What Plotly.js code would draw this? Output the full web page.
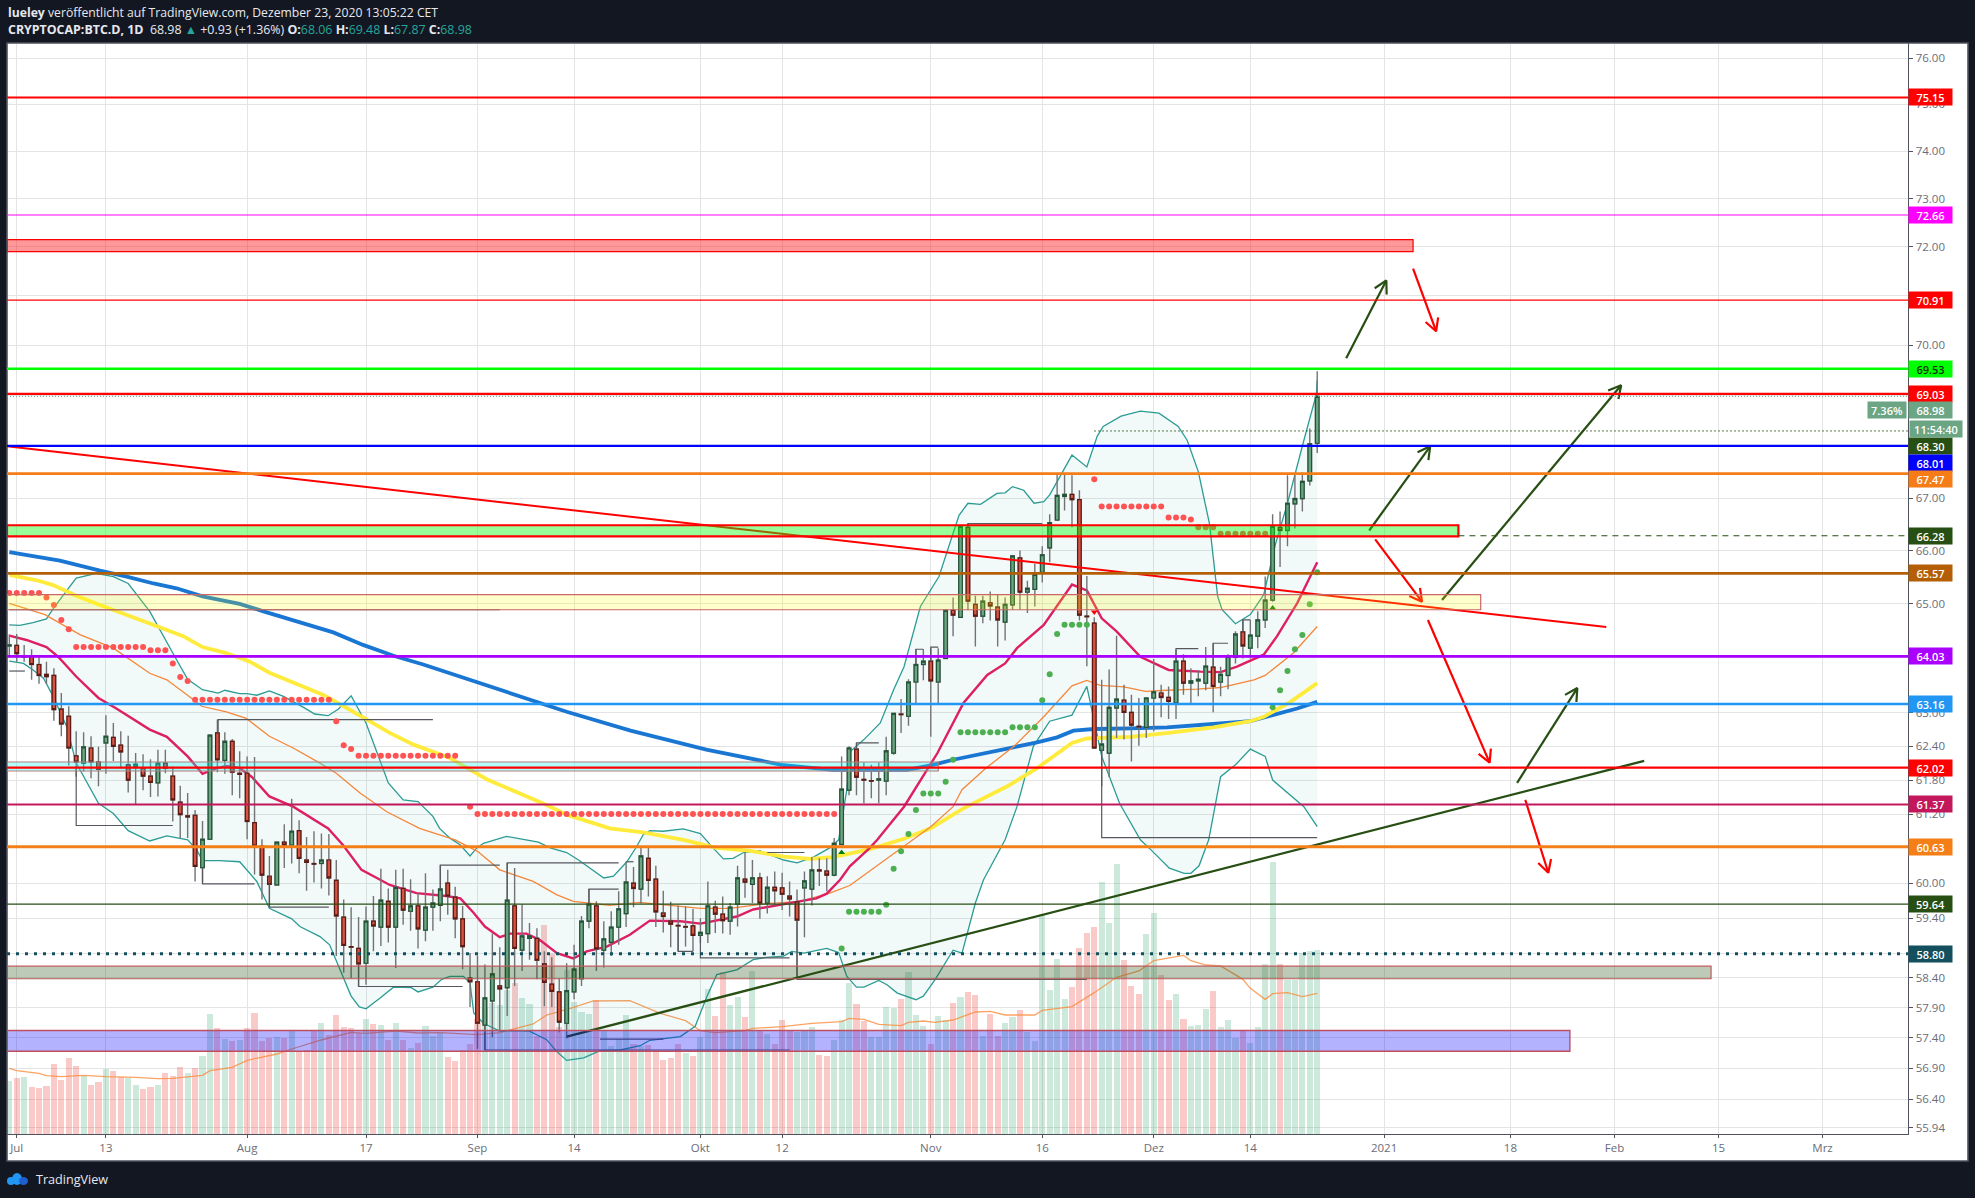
<!DOCTYPE html>
<html><head><meta charset="utf-8">
<script src="https://cdn.plot.ly/plotly-3.0.1.min.js"></script>
<style>html,body{margin:0;padding:0;background:#131722}#c{width:1975px;height:1198px}</style>
</head><body><div id="c"></div>
<script>
// Daily candles, first entry 30 Jun 2020, last entry 23 Dec 2020
const opens=[64.22,
64.23,64.04,64.03,63.88,63.70,63.68,63.07,62.94,62.23,62.10,62.37,62.12,62.46,62.56,62.42,62.07,62.04,62.01,61.87,61.75,62.10,61.87,61.41,61.17,61.18,60.27,60.76,62.64,62.15,62.49,61.92,
61.92,61.05,60.64,60.12,59.97,60.71,60.66,60.91,60.40,60.34,60.34,60.40,60.05,59.42,58.92,58.89,58.64,59.35,59.25,59.69,59.25,59.91,59.52,59.61,59.20,59.59,59.62,60.00,59.76,59.39,58.39,
58.33,57.61,58.01,58.26,58.23,59.61,58.86,59.06,59.06,58.63,58.29,58.16,57.64,58.16,58.38,59.35,59.61,58.86,58.99,59.25,59.48,60.00,59.90,60.43,60.07,59.49,59.35,59.28,59.26,59.27,
59.11,59.14,59.59,59.47,59.35,59.64,60.07,59.98,60.09,59.66,59.93,59.92,59.78,59.68,59.92,59.90,60.23,60.21,60.14,60.67,61.62,62.35,61.81,61.79,61.80,61.78,62.28,62.98,62.94,63.56,63.88,
63.94,63.56,63.99,64.88,64.75,66.44,64.99,64.77,65.02,64.94,64.66,64.98,65.86,65.22,65.27,65.59,66.05,66.58,67.03,67.07,66.97,64.77,64.64,62.33,62.28,63.09,63.23,63.01,62.76,62.74,
63.27,63.36,63.28,63.18,63.94,63.54,63.58,63.54,63.83,63.56,63.68,64.01,64.48,64.18,64.40,64.70,65.07,66.44,66.38,66.89,66.99,67.33,68.06];
const highs=[64.43,
64.44,64.24,64.16,64.02,63.93,63.81,63.36,63.12,62.67,62.65,62.58,62.39,62.96,62.82,62.67,62.59,62.28,62.26,62.17,62.34,62.34,62.04,61.70,61.57,61.27,61.08,62.60,62.88,62.65,62.53,62.31,
62.22,62.21,60.76,60.47,60.71,61.02,61.47,61.09,60.80,60.90,60.86,60.85,60.40,59.72,59.59,59.42,59.60,59.78,60.25,59.91,60.23,60.25,60.07,59.83,60.17,59.89,60.31,60.23,59.94,59.61,58.81,
58.77,58.62,59.14,58.91,60.35,60.26,59.64,59.32,59.23,58.84,58.74,58.39,58.64,58.95,59.44,59.90,59.69,59.35,59.52,59.86,60.37,60.28,60.64,60.63,60.30,59.87,59.68,59.62,59.60,59.56,
59.40,60.03,59.70,59.77,59.66,60.30,60.54,60.40,60.18,60.12,60.20,60.18,60.03,59.89,60.20,60.45,60.43,60.43,60.78,62.22,62.40,62.46,62.11,62.07,62.11,62.57,63.00,63.25,63.61,64.16,64.16,
64.18,64.18,64.89,65.12,66.48,66.51,65.15,65.15,65.23,65.18,65.12,65.91,66.00,65.43,65.75,66.08,66.69,67.47,67.47,67.44,67.15,65.52,64.75,63.60,63.79,64.41,63.51,63.33,63.27,63.28,
63.98,63.51,63.48,64.15,64.07,63.81,63.78,64.20,64.27,63.84,64.07,64.49,64.70,64.70,64.86,65.51,66.69,66.74,67.44,67.44,67.49,68.35,69.48];
const lows=[64.02,
63.93,63.93,63.60,63.53,63.53,62.86,62.58,62.06,61.86,61.95,61.83,61.69,61.91,62.14,62.01,61.58,61.37,61.62,61.50,61.51,61.92,61.07,60.78,60.78,60.03,60.01,60.76,61.94,61.91,61.53,61.48,
60.76,60.15,59.72,59.60,59.97,60.26,60.34,60.17,59.87,60.01,59.91,59.79,58.76,58.48,58.39,58.25,58.28,58.84,58.93,58.99,58.56,59.29,59.19,58.89,59.01,59.19,59.35,59.46,59.06,58.54,57.91,
57.22,57.20,57.41,57.53,57.76,58.26,58.51,58.70,58.37,57.92,57.91,57.49,57.39,58.04,58.26,59.23,58.51,58.57,58.76,58.95,59.25,59.59,59.65,59.77,59.25,59.16,58.91,58.84,58.92,58.84,
58.98,58.98,59.15,59.14,59.12,59.26,59.75,59.66,59.39,59.48,59.62,59.54,59.43,58.39,59.08,59.62,59.95,59.86,60.12,60.65,61.53,61.53,61.39,61.48,61.39,61.53,62.25,62.64,62.77,63.18,63.59,
62.57,63.16,63.99,64.40,64.75,64.88,64.21,64.64,64.69,64.21,64.32,64.89,64.89,64.83,64.95,65.40,65.78,66.56,66.76,66.44,64.69,63.85,62.35,61.69,61.85,62.55,62.52,62.13,62.41,62.55,
62.67,62.92,62.89,62.89,63.33,63.18,63.30,63.41,63.01,63.30,63.43,63.90,63.99,63.99,64.18,64.55,65.04,65.69,66.08,66.42,66.74,67.24,67.87];
const closes=[64.24,
64.08,64.02,63.88,63.68,63.66,63.06,62.80,62.37,62.12,62.39,62.12,61.99,62.58,62.40,62.30,61.80,62.08,61.87,61.76,62.10,62.01,61.45,61.19,61.15,60.29,60.76,62.60,62.16,62.49,61.94,61.90,
61.07,60.64,60.14,59.98,60.71,60.66,60.90,60.43,60.36,60.33,60.40,60.09,59.44,58.94,58.91,58.63,59.35,59.27,59.71,59.25,59.93,59.54,59.61,59.22,59.59,59.66,59.90,59.78,59.39,58.92,58.33,
57.64,58.06,58.46,58.21,59.71,58.89,59.10,59.10,58.69,58.32,58.17,57.66,58.18,58.54,59.35,59.64,58.88,59.05,59.25,59.56,60.02,59.91,60.47,60.05,59.51,59.43,59.30,59.27,59.25,59.11,
59.16,59.61,59.47,59.36,59.59,60.09,60.02,60.09,59.66,59.93,59.87,59.81,59.73,59.37,60.04,60.23,60.21,60.14,60.69,61.64,62.37,61.85,61.80,61.78,61.82,62.32,62.99,62.97,63.56,63.88,63.94,
63.58,63.96,64.88,64.79,66.46,65.05,64.77,65.05,64.96,64.70,64.99,65.90,65.22,65.29,65.55,65.92,66.53,67.05,67.07,66.97,64.79,64.76,62.37,62.44,63.10,63.25,63.01,62.78,62.75,63.27,
63.38,63.28,63.21,63.94,63.54,63.58,63.61,63.85,63.48,63.70,64.03,64.44,64.22,64.42,64.70,65.07,66.46,66.38,66.90,66.99,67.32,68.05,68.98];

// Volume per candle, arbitrary units, and the bar colour read per candle
const volume=[159,168,171,141,138,144,210,162,228,204,174,147,156,195,189,172,168,147,135,141,147,183,174,201,183,198,234,360,318,286,279,282,318,363,279,288,291,288,311,249,252,312,333,297,357,321,318,302,345,330,327,282,333,282,259,273,324,294,302,231,219,252,270,344,
382,392,386,432,452,408,390,295,627,540,322,492,395,366,360,402,312,264,284,357,270,264,267,252,222,228,270,242,234,
292,435,354,486,387,411,351,489,310,300,270,342,310,307,310,321,237,234,282,342,452,390,339,292,291,381,377,405,486,357,324,
270,354,342,393,411,426,417,294,360,294,333,351,372,306,279,657,432,525,405,441,558,603,621,756,633,810,522,444,420,600,
663,477,402,420,345,324,327,376,429,321,342,287,309,273,321,510,816,510,462,462,543,549,552];
const volumeDir="GRGRRRRRRRGRRGRRGGRRGRRRGRGGRGRGRRRRGRGRRRGRRRRRGRGRGRGRGGGRRRRR"+"GGGGRG"+"GRRRRGGGGR"+"GGGGRGRRRR"+"RGRGGRRGGR"+"GRGRRRGGGR"+"RGGGRRGGGG"+"RGGGRGGRGR"+"RGRRGGRGGG"+"GGGRRRRGGG"+"RRRGGRRGRG"+"GGRGGGRGGG"+"GRGGGGG";
const volMaIdx=[0,1,4,5,7,10,13,17,20,22,26,27,30,32,36,38,42,46,48,52,55,58,63,66,70.5,72.3,75.5,78.6,83.5,87.6,91,93,95,99,100,104,108,112,113,115,117,120,121,123,124.5,127,130,132,134,138,139,143,146,149,152,154,158,159,161,163,166,167,169,170,172,174,176];
const volMa=[197,190,182,175,172,176,172,170,166,167,176,190,200,221,240,255,282,305,302,309,303,304,298,304,330,357,377,399,400,362,340,310,304,310,317,322,332,337,347,344,329,325,335,339,335,342,366,368,357,357,371,382,424,470,489,520,536,520,507,504,464,437,404,421,424,412,422];

// Moving averages, read at candle index positions
const ema200Idx=[0,3.7,6.8,12.2,15.8,19.4,22.5,26,31,34.2,38.2,43.6,47.6,51.7,55.7,59.3,75,83.6,93.8,103.9,110.7,120.8,124,127,130.7,134.3,138.3,141,143.2,146,150.9,155.8,162,167,170,173.3,176];
const ema200=[65.97,65.89,65.81,65.62,65.51,65.38,65.29,65.14,65.00,64.86,64.70,64.47,64.24,64.04,63.88,63.72,63.02,62.68,62.34,62.07,61.98,61.98,62.06,62.16,62.27,62.36,62.47,62.56,62.68,62.71,62.72,62.74,62.80,62.85,62.96,63.08,63.20];
const ema100Idx=[0,3.7,5.9,9,12.2,15.8,19.8,23.4,26,29.2,32.4,35,39,42.2,45,48,51.2,54.4,59.3,64.3,72.3,75,80.8,85.3,90.7,95.2,99.7,104.2,107.8,110.9,113.1,115.8,120.4,124,127,128.4,134.3,138.3,143,145,150.9,156,162,167,168.8,172.4,176];
const ema100=[65.54,65.44,65.35,65.15,64.98,64.80,64.59,64.40,64.20,64.09,63.93,63.73,63.51,63.33,63.12,62.88,62.64,62.43,62.19,61.81,61.36,61.19,60.95,60.88,60.75,60.61,60.56,60.46,60.42,60.45,60.52,60.59,60.77,60.95,61.19,61.30,61.69,62.01,62.46,62.54,62.57,62.64,62.74,62.85,62.93,63.20,63.54];
const ema50Idx=[0,4.8,9.5,14,18.9,21.2,23.9,25.9,29.2,31.9,35,38.2,41.8,44,47.2,50.8,55.2,58.8,60,63,66,70.5,73.7,75.9,80.8,84.8,88.5,93,97,101.9,106.4,110.4,113.1,122.2,124,127,128.2,131.4,135.2,139.2,143,145,146.8,150,152.9,155.8,159.8,163,167.5,169,172.8,176];
const ema50=[65.01,64.80,64.43,64.18,63.72,63.60,63.33,63.12,63.02,62.90,62.58,62.37,62.10,61.92,61.57,61.24,60.95,60.81,60.75,60.55,60.23,60.03,59.80,59.69,59.62,59.67,59.63,59.57,59.57,59.65,59.69,59.83,59.96,60.81,60.98,61.33,61.63,62.01,62.40,62.93,63.49,63.59,63.50,63.47,63.39,63.41,63.43,63.46,63.60,63.68,64.09,64.58];
const ema20Idx=[0,2.3,5,6.6,9,12,14.4,16.7,18.9,21.2,24,26,27.9,29.2,31,32.6,35,38.2,41.3,42.9,44.9,47.4,49.9,51.2,54.8,58.8,60.7,62.5,64,66,67.4,69.6,71.4,73.7,75.9,77.7,80.4,83.5,86.2,90.3,93,95.2,97.9,100.1,103.7,108.6,110,111.8,113.1,115.8,116.8,120.4,124.9,128.4,131.6,134,135.6,139.2,143,145,147,149,152.2,156,160.3,163,165.2,168.8,170.6,173.3,176];
const ema20=[64.41,64.33,64.20,64.02,63.66,63.27,63.08,62.89,62.70,62.57,62.22,61.91,62.01,62.05,62.01,61.86,61.51,61.33,61.07,60.95,60.66,60.23,60.06,59.97,59.83,59.78,59.74,59.49,59.26,59.08,59.14,59.14,59.03,58.81,58.72,58.84,58.92,59.12,59.36,59.35,59.31,59.36,59.43,59.55,59.63,59.74,59.82,60.06,60.29,60.61,60.75,61.33,62.28,63.18,63.69,63.90,64.18,64.61,65.36,65.25,64.73,64.49,64.02,63.78,63.75,63.74,63.84,64.06,64.40,65.01,65.78];

// Bollinger bands
const bbUpperIdx=[0,1.4,3.2,5,6.1,7.7,9,11.7,14,16,18.9,22,24,26,28.1,29,31,32,33.3,35,36.9,39.6,41.1,42.9,44.3,46,48,51,53,55,57,57.9,59.3,60.7,62,62.9,63.8,66.9,69.6,71.2,72.8,75,76.6,78.2,80,81.3,83.1,84.4,85.3,86.2,88,90.7,93,94.7,96.1,97.4,98.8,101,104.2,106,108.2,110.4,111.6,112.7,113.2,115,117.2,119,120.4,122.6,125.1,127.8,129,130.7,132.9,134,135,136.5,137.9,139.2,140,143,145,146.4,147.2,149.6,152.2,154.7,157.3,158.5,160,161.5,162.6,163.2,165,167,168.8,170.4,172,174.1,175.9,176];
const bbUpper=[64.61,64.60,64.65,64.72,64.95,65.23,65.48,65.57,65.51,65.38,64.86,64.09,63.61,63.42,63.36,63.41,63.35,63.35,63.32,63.40,63.30,63.10,62.98,62.95,63.07,63.31,62.82,61.75,61.45,61.42,61.16,60.95,60.78,60.66,60.47,60.61,60.69,60.81,60.75,60.71,60.61,60.53,60.40,60.26,60.09,60.12,60.37,60.63,60.84,60.91,60.90,60.94,60.86,60.61,60.42,60.43,60.53,60.56,60.40,60.35,60.45,60.61,60.75,61.63,62.31,62.52,62.82,63.42,63.84,64.95,65.51,66.67,66.90,66.88,67.09,67.10,67.22,67.15,66.90,66.93,67.06,67.83,67.60,68.20,68.39,68.59,68.69,68.65,68.39,68.12,67.51,66.51,65.14,64.89,64.63,64.80,65.17,66.13,66.90,68.06,69.03,69.30];
const bbLowerIdx=[0,1.9,3.2,4.6,5.9,7.7,9,12,14,16,18.9,21.2,24,25.2,26,28.3,31,33.3,35,38,39.1,41.8,43.1,44.9,46,47.1,48,49.9,51.7,54.1,55,57,58.2,59.3,61.1,62,62.5,63.8,66,67.8,70,72.3,73.7,75,77.3,79.5,82.2,84.9,86.2,90.3,92.3,93.9,95.2,97.9,100.1,101.9,104.2,105.3,106.9,110,111.6,112.7,114,115,117,118.1,119.5,122,123,124.6,127,128.2,130,131.1,134,135.6,136.9,137.8,140,143,145,147,149.4,152.2,153.6,156.1,158.1,159,160.1,161.4,163,165,167,169,170,174.2,176];
const bbLower=[63.94,63.90,63.78,63.63,63.30,62.76,62.10,61.39,61.21,60.91,60.73,60.82,60.75,60.58,60.39,60.39,60.37,60.03,59.57,59.39,59.26,59.09,58.95,58.42,58.09,57.91,57.88,58.06,58.24,58.23,58.16,58.24,58.37,58.42,58.42,58.31,57.81,57.64,57.51,57.52,57.51,57.37,57.17,57.03,57.07,57.19,57.20,57.27,57.36,57.42,57.59,58.09,58.45,58.53,58.70,58.74,58.76,58.84,58.81,58.89,58.82,58.42,58.24,58.24,58.35,58.28,58.14,58.03,58.09,58.37,58.86,58.81,59.66,60.06,60.75,61.33,61.98,62.40,62.85,62.96,63.48,62.22,61.39,60.75,60.58,60.26,60.17,60.17,60.30,60.75,61.86,62.07,62.35,62.22,61.80,61.33,60.98];

// Parabolic SAR dots
const sarRedIdx=[0,1,2,3,4,5,6,7,8,9,10,11,12,13,14,15,16,17,18,19,20,21,22,23,24,25,26,27,28,29,30,31,32,33,34,35,36,37,38,39,40,41,42,43,44,45,46,47,48,49,50,51,52,53,54,55,56,57,58,59,60,62,63,64,65,66,67,68,69,70,71,72,73,74,75,76,77,78,79,80,81,82,83,84,85,86,87,88,89,90,91,92,93,94,95,96,97,98,99,100,101,102,103,104,105,106,107,108,109,110,111,146,147,148,149,150,151,152,153,154,155,156,157,158,159,160,161,162,163,164,165,166,167,168,169];
const sarRed=[65.20,65.20,65.20,65.20,65.20,65.12,64.98,64.70,64.53,64.20,64.20,64.20,64.20,64.20,64.20,64.20,64.20,64.20,64.20,64.14,64.14,64.14,63.90,63.65,63.58,63.24,63.24,63.24,63.24,63.24,63.24,63.24,63.24,63.24,63.24,63.24,63.24,63.24,63.24,63.24,63.24,63.24,63.24,63.24,62.85,62.42,62.35,62.23,62.23,62.23,62.23,62.23,62.23,62.23,62.23,62.23,62.23,62.23,62.23,62.23,62.23,61.33,61.20,61.20,61.20,61.20,61.20,61.20,61.20,61.20,61.20,61.20,61.20,61.20,61.20,61.20,61.20,61.20,61.20,61.20,61.20,61.20,61.20,61.20,61.20,61.20,61.20,61.20,61.20,61.20,61.20,61.20,61.20,61.20,61.20,61.20,61.20,61.20,61.20,61.20,61.20,61.20,61.20,61.20,61.20,61.20,61.20,61.20,61.20,61.20,61.20,67.36,66.84,66.84,66.84,66.84,66.84,66.84,66.84,66.84,66.84,66.63,66.63,66.63,66.59,66.44,66.44,66.44,66.32,66.32,66.32,66.32,66.32,66.32,66.32];
const sarGreenIdx=[112,113,114,115,116,117,118,119,120,121,122,123,124,125,126,127,128,129,130,131,132,133,134,135,136,137,138,139,140,141,142,143,144,145,170,171,172,173,174,175,176];
const sarGreen=[58.89,59.51,59.51,59.51,59.51,59.51,59.63,60.25,60.55,60.85,61.27,61.56,61.56,61.56,61.77,62.16,62.65,62.65,62.65,62.65,62.65,62.65,62.65,62.74,62.74,62.74,62.74,63.23,63.70,64.44,64.61,64.61,64.61,64.61,63.10,63.41,63.76,64.16,64.42,64.99,65.59];
const upSignalIdx=[112,170], upSignal=[60.53,64.92];
const downSignalIdx=[146], downSignal=[64.85];

// Pivot / zig-zag segments (null separates the segments)
const pivotIdx=[0,2.1,null,9,9,22,null,28.1,28.1,57,null,26,26,33,null,35,35,43,null,47,47,61,null,58,58,66,null,67,67,82,null,83,84,null,78,78,82,null,64,64,105,null,79.5,88,null,90,90,92,null,93,93,105,null,106,106,145,null,102,107,null,114,114,117,null,122,122,123,null,124,124,125,null,129,129,139,null,147,147,176,null,157,157,160,null,162,162,164,null,166,166,167,null,0,66];
const pivotPrice=[63.76,63.76,null,62.04,61.00,61.00,null,62.64,62.88,62.88,null,60.27,59.99,59.99,null,60.12,59.59,59.59,null,58.63,58.25,58.25,null,59.90,60.31,60.31,null,59.71,60.35,60.35,null,60.37,60.37,null,59.66,59.90,59.90,null,57.61,57.20,57.20,null,57.38,57.38,null,59.27,58.84,58.84,null,59.11,58.73,58.73,null,59.37,58.37,58.37,null,60.53,60.53,null,62.35,62.46,62.46,null,63.88,64.16,64.16,null,63.94,64.20,64.20,null,66.44,66.51,66.51,null,62.33,60.79,60.79,null,63.94,64.17,64.17,null,63.83,64.27,64.27,null,64.48,64.70,64.70,null,64.89,64.89];

// Trend lines and arrows: [start index, start price, end index, end price]
const redTrend=[-0.3,68.00,214.9,64.57];
const greenTrend=[75,57.42,220,62.14];
const greenArrows=[[179.9,69.74,185.3,71.31],[183,66.38,191.2,68.00],[192.8,65.07,216.9,69.20],[202.9,61.75,211,63.45]];
const redArrows=[[188.9,71.55,192,70.28],[183.8,66.21,190.1,65.04],[190.9,64.70,199.2,62.11],[204,61.45,207.1,60.18]];

// Levels
const levelValues=[75.15,72.66,70.91,69.53,69.03,68.98,68.30,68.01,67.47,66.28,65.57,64.03,63.16,62.02,61.37,60.63,59.64,58.80];
const levelColors=["#ff0000","#ff00ff","#ff0000","#00ff00","#ff0000","#6ba583","#274e13","#0000ff","#f57c17","#274e13","#b45f06","#aa00ff","#2196f3","#ff0000","#c2185b","#f57f17","#274e13","#134f5c"];
const levelWidths=[2,1.2,1.2,2.4,2.2,1,1,2.2,2.6,1,2.6,2.8,2.4,2.2,2,2.8,1.2,3];
const levelDash=["solid","solid","solid","solid","solid","1px,2px","1.5px,2.5px","solid","solid","6px,5px","solid","solid","solid","solid","solid","solid","solid","3px,6px"];
const levelTagShift=[0,0,0,0,0,-14,-15,-17,-5,0,0,0,0,0,0,0,0,0];
const levelStartIdx=[null,null,null,null,null,null,146,null,null,195,null,null,null,null,null,null,null,null];

// Bands: [upper price, lower price, end index]
const bandValues=[[72.15,71.90,188.9],[66.48,66.27,195],[65.17,64.89,198],[62.12,61.96,125],[58.59,58.38,229],[57.52,57.18,210]];
const bandFill=["rgba(255,0,0,.4)","rgba(0,255,0,.4)","rgba(255,255,0,.2)","rgba(0,255,255,.3)","rgba(39,78,19,.3)","rgba(0,0,255,.3)"];
const bandLine=["#ff0000","#ff0000","#cc6666","#b87a7a","#bf5b5b","#bf4f5f"];
const bandLineWidth=[1.2,2.2,1.2,1.2,1.2,1.4];

// Axes
const xTickIdx=[1,13,32,48,63,76,93,104,124,139,154,167,185,202,216,230,244];
const xTickText=["Jul","13","Aug","17","Sep","14","Okt","12","Nov","16","Dez","14","2021","18","Feb","15","Mrz"];
const yTicks=[76,75,74,73,72,71,70,69,68,67,66,65,64,63,62.4,61.8,61.2,60,59.4,58.8,58.4,57.9,57.4,56.9,56.4,55.94];

const dayMs=864e5, startMs=Date.UTC(2020,5,30);
const d=i=>i==null?null:new Date(startMs+i*dayMs).toISOString().slice(0,19).replace('T',' ');
const ds=a=>a.map(d);
const dates=opens.map((_,i)=>d(i));
const priceRange=[Math.log10(55.84),Math.log10(76.33)];
const GREEN="#6ba583",RED="#d75442";

function arrowPath(a){
  const kx=7.43,ky=3492,[i0,p0,i1,p1]=a;
  const dx=(i1-i0)*kx,dy=Math.log(p1/p0)*ky,ang=Math.atan2(dy,dx),len=14,sp=0.5;
  const barb=s=>[i1-Math.cos(ang+s)*len/kx,p1*Math.exp(-Math.sin(ang+s)*len/ky)];
  const b1=barb(sp),b2=barb(-sp);
  return {x:[i0,i1,null,b1[0],i1,b2[0],null],y:[p0,p1,null,b1[1],p1,b2[1],null]};
}
function arrowsTrace(list,color){
  let x=[],y=[];
  list.forEach(a=>{const r=arrowPath(a);x=x.concat(r.x);y=y.concat(r.y);});
  return {type:'scatter',mode:'lines',x:ds(x),y,yaxis:'y3',line:{color,width:2.2},connectgaps:false};
}
const line=(ix,vals,color,width,extra)=>Object.assign({type:'scatter',mode:'lines',x:ds(ix),y:vals,yaxis:'y2',line:{color,width},cliponaxis:true},extra||{});

const traces=[
 {type:'bar',x:dates,y:volume,yaxis:'y',width:0.82*dayMs,marker:{color:volume.map((_,i)=>volumeDir[i]==='G'?'rgba(76,175,130,.28)':'rgba(239,83,80,.31)'),line:{width:0}}},
 line(volMaIdx,volMa,'rgba(250,140,60,.8)',1.3,{yaxis:'y'}),
 line(bbUpperIdx,bbUpper,'#2b9c94',1.3),
 line(bbLowerIdx,bbLower,'#2b9c94',1.3,{fill:'tonexty',fillcolor:'rgba(38,146,154,.06)'}),
 line(ema200Idx,ema200,'#1976d2',3.8),
 line(ema100Idx,ema100,'#ffeb3b',3.8),
 line(ema50Idx,ema50,'#f5873a',1.3),
 line(ema20Idx,ema20,'#dd1f63',2.4),
 // wick layer, then a body layer with no wick
 {type:'candlestick',x:dates,open:opens,high:highs,low:lows,close:closes,yaxis:'y3',whiskerwidth:0,
  increasing:{line:{color:'#737375',width:1.4},fillcolor:'rgba(0,0,0,0)'},decreasing:{line:{color:'#737375',width:1.4},fillcolor:'rgba(0,0,0,0)'}},
 {type:'candlestick',x:dates,open:opens,close:closes,high:opens.map((o,i)=>Math.max(o,closes[i])),low:opens.map((o,i)=>Math.min(o,closes[i])),yaxis:'y3',whiskerwidth:0,
  increasing:{line:{color:'#225437',width:1.2},fillcolor:GREEN},decreasing:{line:{color:'#5b1a13',width:1.2},fillcolor:RED}},
 {type:'scatter',mode:'lines',x:ds(pivotIdx),y:pivotPrice,yaxis:'y3',line:{color:'#55585f',width:1.2}},
 {type:'scatter',mode:'markers',x:ds(sarRedIdx),y:sarRed,yaxis:'y3',marker:{color:'#ff5252',size:6}},
 {type:'scatter',mode:'markers',x:ds(sarGreenIdx),y:sarGreen,yaxis:'y3',marker:{color:'#4caf50',size:6}},
 {type:'scatter',mode:'markers',x:ds(upSignalIdx),y:upSignal,yaxis:'y3',marker:{color:'#008000',size:6,symbol:'triangle-up'}},
 {type:'scatter',mode:'markers',x:ds(downSignalIdx),y:downSignal,yaxis:'y3',marker:{color:'#ff0000',size:6,symbol:'triangle-down'}},
 {type:'scatter',mode:'lines',x:ds([redTrend[0],redTrend[2]]),y:[redTrend[1],redTrend[3]],yaxis:'y3',line:{color:'#ff0000',width:2}},
 {type:'scatter',mode:'lines',x:ds([greenTrend[0],greenTrend[2]]),y:[greenTrend[1],greenTrend[3]],yaxis:'y3',line:{color:'#274e13',width:2.4}},
 arrowsTrace(greenArrows,'#274e13'),
 arrowsTrace(redArrows,'#ff0000')
];

// Plot frame in pixels, used only for elements that live outside the plot area
const PL=7,PR=1908,PT=43,PB=1134;
const px=x=>(x-PL)/(PR-PL), py=y=>(PB-y)/(PB-PT);
const shapes=[
 {type:'rect',xref:'paper',yref:'paper',x0:px(PR),x1:px(1968),y0:py(1161),y1:py(PT),fillcolor:'#ffffff',line:{width:0},layer:'below'},
 {type:'rect',xref:'paper',yref:'paper',x0:px(PL),x1:px(1968),y0:py(1161),y1:py(PB),fillcolor:'#ffffff',line:{width:0},layer:'below'},
 {type:'rect',xref:'paper',yref:'paper',x0:px(PL),x1:px(1968),y0:py(1161),y1:py(PT),fillcolor:'rgba(0,0,0,0)',line:{color:'#50535e',width:1.6},layer:'above'},
 {type:'circle',xref:'paper',yref:'paper',x0:px(7),x1:px(15),y0:py(1185),y1:py(1177),fillcolor:'#2196f3',line:{width:0},layer:'above'},
 {type:'circle',xref:'paper',yref:'paper',x0:px(12),x1:px(22),y0:py(1185),y1:py(1173),fillcolor:'#2196f3',line:{width:0},layer:'above'},
 {type:'circle',xref:'paper',yref:'paper',x0:px(19),x1:px(28),y0:py(1185),y1:py(1177),fillcolor:'#1e5fd0',line:{width:0},layer:'above'}
];
bandValues.forEach((b,k)=>shapes.push({type:'rect',xref:'x',yref:'y2',x0:d(-0.31),x1:d(b[2]),y0:b[1],y1:b[0],fillcolor:bandFill[k],line:{color:bandLine[k],width:bandLineWidth[k]},layer:'above'}));
levelValues.forEach((v,k)=>{
  const s=levelStartIdx[k];
  shapes.push({type:'line',xref:s!=null?'x':'paper',yref:'y2',x0:s!=null?d(s):0,x1:s!=null?d(255.5):1,y0:v,y1:v,line:{color:levelColors[k],width:levelWidths[k],dash:levelDash[k]},layer:'above'});
});

const base={family:'"Open Sans",sans-serif'};
const annotations=[
 {xref:'paper',yref:'paper',x:px(6),y:py(12.5),xanchor:'left',yanchor:'middle',showarrow:false,align:'left',font:{...base,size:12.2,color:'#e6e8ef'},
  text:'<b>lueley</b> veröffentlicht auf TradingView.com, Dezember 23, 2020 13:05:22 CET'},
 {xref:'paper',yref:'paper',x:px(6),y:py(29.5),xanchor:'left',yanchor:'middle',showarrow:false,align:'left',font:{...base,size:12.4,color:'#e6e8ef'},
  text:'<b>CRYPTOCAP:BTC.D, 1D</b>  68.98 <span style="color:#26a69a">▲</span> +0.93 (+1.36%) <b>O:</b><span style="color:#26a69a">68.06</span> <b>H:</b><span style="color:#26a69a">69.48</span> <b>L:</b><span style="color:#26a69a">67.87</span> <b>C:</b><span style="color:#26a69a">68.98</span>'},
 {xref:'paper',yref:'paper',x:px(34),y:py(1179),xanchor:'left',yanchor:'middle',showarrow:false,font:{...base,size:12.6,color:'#e6e8ef'},text:'TradingView'}
];
levelValues.forEach((v,k)=>annotations.push({xref:'paper',yref:'y2',x:1,y:Math.log10(v),xanchor:'left',yanchor:'middle',yshift:levelTagShift[k],showarrow:false,width:43,height:16,align:'center',valign:'middle',borderpad:0,bgcolor:levelColors[k],font:{...base,size:11,color:v===69.53?'#103010':'#ffffff',weight:600},text:v.toFixed(2)}));
annotations.push({xref:'paper',yref:'y2',x:1,y:Math.log10(68.30),xanchor:'left',yanchor:'middle',yshift:2,xshift:1,showarrow:false,width:52,height:16,align:'center',valign:'middle',borderpad:0,bgcolor:GREEN,font:{...base,size:11,color:'#ffffff',weight:600},text:'11:54:40'});
annotations.push({xref:'paper',yref:'y2',x:1,y:Math.log10(68.98),xanchor:'right',yanchor:'middle',yshift:-14,xshift:-1,showarrow:false,width:38,height:16,align:'center',valign:'middle',borderpad:0,bgcolor:GREEN,font:{...base,size:11,color:'#ffffff',weight:600},text:'7.36%'});

const layout={
 width:1975,height:1198,margin:{l:PL,r:1975-PR,t:PT,b:1198-PB,pad:0},
 paper_bgcolor:'#131722',plot_bgcolor:'#ffffff',showlegend:false,hovermode:false,dragmode:false,boxgap:0.32,bargap:0,
 xaxis:{type:'date',range:[d(-0.31),d(255.5)],rangeslider:{visible:false},tickmode:'array',tickvals:ds(xTickIdx),ticktext:xTickText,
  showgrid:true,gridcolor:'#e4e4e4',gridwidth:1,zeroline:false,showline:true,linecolor:'#50535e',linewidth:1.4,ticks:'outside',ticklen:3,tickcolor:'#50535e',tickfont:{...base,size:11.5,color:'#6a6d78'}},
 yaxis:{range:[0,3273],visible:false,fixedrange:true,showgrid:false,zeroline:false},
 yaxis2:{type:'log',range:priceRange,overlaying:'y',side:'right',tickmode:'array',tickvals:yTicks,ticktext:yTicks.map(v=>v.toFixed(2)),
  showgrid:true,gridcolor:'#e4e4e4',gridwidth:1,zeroline:false,showline:true,linecolor:'#50535e',linewidth:1.4,ticks:'outside',ticklen:4,tickcolor:'#50535e',tickfont:{...base,size:11.5,color:'#6a6d78'}},
 yaxis3:{type:'log',range:priceRange,overlaying:'y',side:'right',visible:false,showgrid:false,zeroline:false},
 shapes,annotations
};
Plotly.newPlot('c',traces,layout,{displayModeBar:false,staticPlot:true});
</script></body></html>
